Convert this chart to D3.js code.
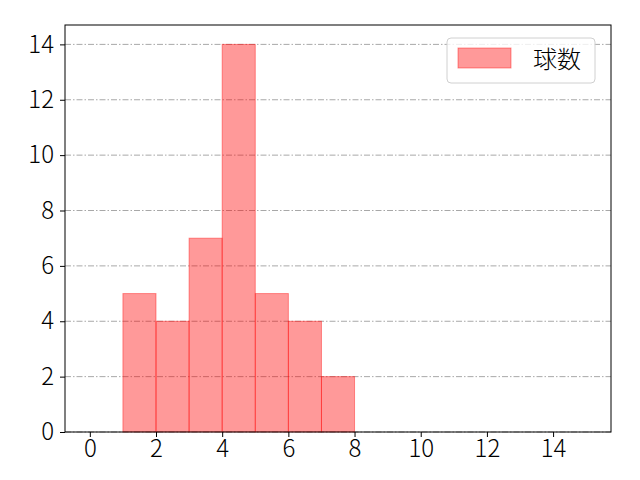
<!DOCTYPE html>
<html lang="ja">
<head>
  <meta charset="UTF-8" />
  <title>球数</title>
  <script src="https://d3js.org/d3.v7.min.js"></script>
  <style>
    body { margin: 0; background: #fff; }
    text { font-family: "Noto Sans CJK JP", "DejaVu Sans", sans-serif; font-weight: 300; }
  </style>
</head>
<body>
  <svg id="chart" width="640" height="480"></svg>

  <script>
    // histogram bins (left edges) and counts
    const binStarts = [1, 2, 3, 4, 5, 6, 7];
    const counts = [5, 4, 7, 14, 5, 4, 2];
    const binWidth = 1;
    const xTicks = [0, 2, 4, 6, 8, 10, 12, 14];
    const yTicks = [0, 2, 4, 6, 8, 10, 12, 14];
    const seriesName = "球数";

    const margin = { top: 25, right: 29, bottom: 48, left: 65 };
    const width = 640 - margin.left - margin.right;
    const height = 480 - margin.top - margin.bottom;

    const svg = d3.select("#chart");
    const g = svg.append("g")
      .attr("transform", `translate(${margin.left},${margin.top})`);

    const x = d3.scaleLinear().domain([-0.75, 15.75]).range([0, width]);
    const y = d3.scaleLinear().domain([0, 14.7]).range([height, 0]);

    // grid lines
    g.selectAll("line.grid")
      .data(yTicks)
      .join("line")
      .attr("class", "grid")
      .attr("x1", 0)
      .attr("x2", width)
      .attr("y1", d => y(d))
      .attr("y2", d => y(d))
      .attr("stroke", "#a8a8a8")
      .attr("stroke-width", 1)
      .attr("stroke-dasharray", "6,2,1.5,2");

    // bars
    g.selectAll("rect.bar")
      .data(binStarts)
      .join("rect")
      .attr("class", "bar")
      .attr("x", d => x(d))
      .attr("y", (d, i) => y(counts[i]))
      .attr("width", d => x(d + binWidth) - x(d))
      .attr("height", (d, i) => y(0) - y(counts[i]))
      .attr("fill", "rgba(255,0,0,0.4)")
      .attr("stroke", "rgba(255,0,0,0.4)")
      .attr("stroke-width", 1);

    // axes
    const xAxis = g.append("g")
      .attr("transform", `translate(0,${height})`)
      .call(d3.axisBottom(x).tickValues(xTicks).tickSize(5).tickPadding(3));
    const yAxis = g.append("g")
      .call(d3.axisLeft(y).tickValues(yTicks).tickSize(5).tickPadding(6));

    [xAxis, yAxis].forEach(a => {
      a.select(".domain").remove();
      a.selectAll("text")
        .attr("font-size", 24)
        .attr("fill", "#000")
        .style("font-family", '"Noto Sans CJK JP", sans-serif')
        .style("font-weight", 300);
      a.selectAll("line").attr("stroke", "#000").attr("stroke-width", 1);
    });

    // frame
    g.append("rect")
      .attr("width", width)
      .attr("height", height)
      .attr("fill", "none")
      .attr("stroke", "#000")
      .attr("stroke-width", 1);

    // legend
    const lg = g.append("g").attr("transform", `translate(${447 - margin.left},${38 - margin.top})`);
    lg.append("rect")
      .attr("width", 148)
      .attr("height", 45)
      .attr("rx", 4)
      .attr("fill", "rgba(255,255,255,0.8)")
      .attr("stroke", "#d0d0d0");
    lg.append("rect")
      .attr("x", 11)
      .attr("y", 10)
      .attr("width", 53)
      .attr("height", 20)
      .attr("fill", "rgba(255,0,0,0.4)")
      .attr("stroke", "rgba(255,0,0,0.4)");
    lg.append("text")
      .attr("x", 86)
      .attr("y", 30)
      .attr("font-size", 24)
      .text(seriesName);
  </script>
</body>
</html>
